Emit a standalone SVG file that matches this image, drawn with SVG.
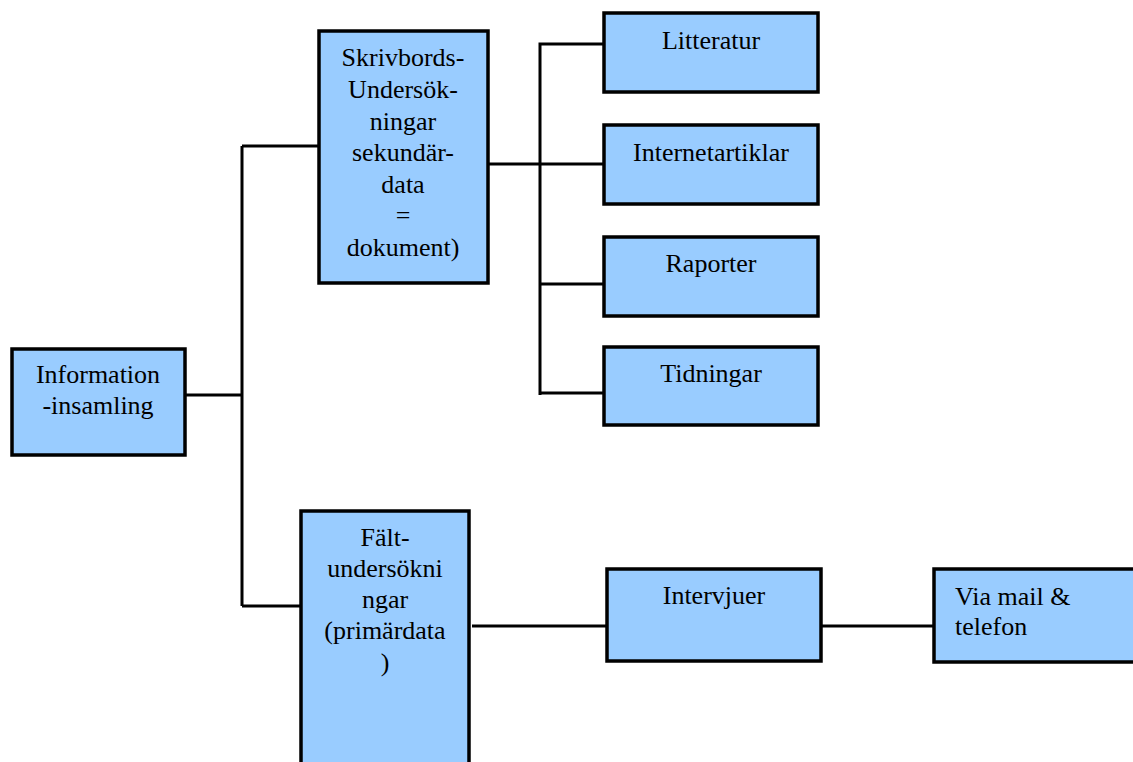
<svg xmlns="http://www.w3.org/2000/svg" width="1133" height="762" viewBox="0 0 1133 762" font-family="Liberation Serif, DejaVu Serif, serif">
<style>
.box{fill:#99CCFF;stroke:#000;stroke-width:3.5}
.ln{stroke:#000;stroke-width:3;fill:none}
text{font-family:'Liberation Serif','DejaVu Serif',serif;font-size:26px;fill:#000}
.c{text-anchor:middle}
</style>
<rect width="1133" height="762" fill="#fff"/>
<g id="connectors">
<path class="ln" d="M186 395H242M242 146V606M242 146H319M242 606H301"/>
<path class="ln" d="M489 164H606M540 395V44H603M540 284H603M540 393H603"/>
<path class="ln" d="M472 626H606M821 626H933"/>
</g>
<g id="information">
<rect class="box" x="12" y="349" width="173" height="106"/>
<text class="c" x="98" y="383">Information</text>
<text class="c" x="98" y="414">-insamling</text>
</g>
<g id="skrivbords">
<rect class="box" x="319" y="31" width="169" height="252"/>
<text class="c" x="403" y="66">Skrivbords-</text>
<text class="c" x="403" y="98">Undersök-</text>
<text class="c" x="403" y="130">ningar</text>
<text class="c" x="403" y="161">sekundär-</text>
<text class="c" x="403" y="193">data</text>
<text class="c" x="403" y="224">=</text>
<text class="c" x="403" y="256">dokument)</text>
</g>
<g id="falt">
<rect class="box" x="301" y="511" width="168" height="270"/>
<text class="c" x="385" y="546">Fält-</text>
<text class="c" x="385" y="577">undersökni</text>
<text class="c" x="385" y="608">ngar</text>
<text class="c" x="385" y="639">(primärdata</text>
<text class="c" x="385" y="671">)</text>
</g>
<g id="litteratur">
<rect class="box" x="604" y="13" width="214" height="79"/>
<text class="c" x="711" y="49">Litteratur</text>
</g>
<g id="internetartiklar">
<rect class="box" x="604" y="125" width="214" height="79"/>
<text class="c" x="711" y="161">Internetartiklar</text>
</g>
<g id="raporter">
<rect class="box" x="604" y="237" width="214" height="79"/>
<text class="c" x="711" y="272">Raporter</text>
</g>
<g id="tidningar">
<rect class="box" x="604" y="347" width="214" height="78"/>
<text class="c" x="711" y="382">Tidningar</text>
</g>
<g id="intervjuer">
<rect class="box" x="607" y="569" width="214" height="92"/>
<text class="c" x="714" y="604">Intervjuer</text>
</g>
<g id="viamail">
<rect class="box" x="934" y="569" width="210" height="93"/>
<text x="955" y="605">Via mail &amp;</text>
<text x="955" y="635">telefon</text>
</g>
</svg>
